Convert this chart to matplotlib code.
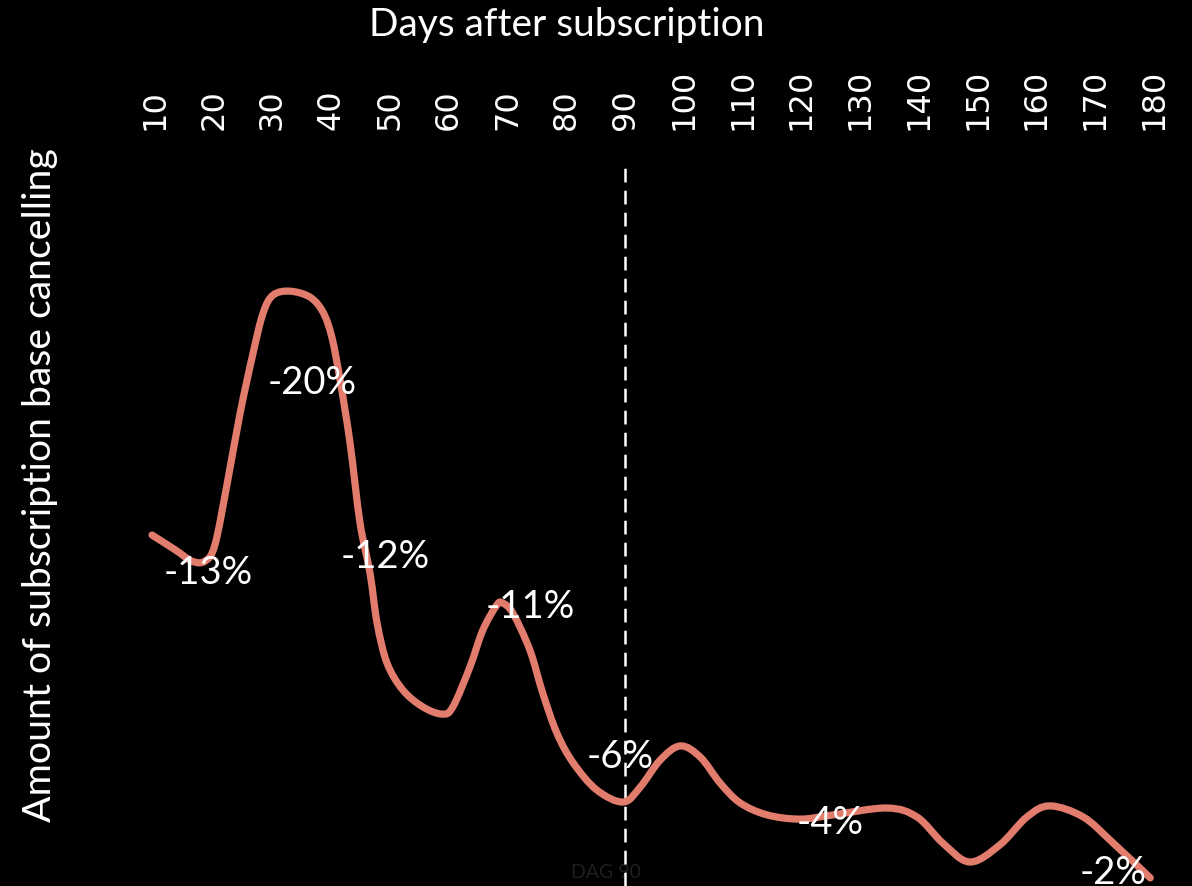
import numpy as np
import matplotlib
matplotlib.use("Agg")
import matplotlib.pyplot as plt
from matplotlib.path import Path
from matplotlib.patches import PathPatch

# Share of the subscription base cancelling, by days after subscription
days = [9.5, 13.5, 16.3, 18.5, 20.2, 22.3, 24.5, 26.7, 28.4, 30.1, 33.0, 36.4,
        38.6, 40.1, 41.5, 43.2, 44.9, 46.6, 47.8, 49.5, 52.2, 55.6, 58.9, 60.7,
        63.6, 65.8, 68.2, 69.2, 70.9, 73.8, 76.0, 78.4, 81.2, 85.2, 89.7, 92.6,
        96.0, 99.4, 102.8, 106.2, 109.6, 114.2, 119.8, 125.4, 134.6, 139.7,
        144.1, 148.7, 153.8, 158.4, 162.3, 168.0, 173.1, 179.4]
share = [11.70, 11.20, 10.83, 10.83, 11.37, 13.43, 15.77, 17.77, 19.10, 19.70,
         19.83, 19.63, 19.13, 18.30, 16.87, 14.77, 12.10, 10.43, 8.77, 7.43,
         6.53, 5.97, 5.73, 5.97, 7.30, 8.53, 9.37, 9.43, 9.10, 7.87, 6.43, 5.10,
         4.10, 3.20, 2.80, 3.30, 4.20, 4.67, 4.30, 3.43, 2.77, 2.37, 2.23, 2.37,
         2.60, 2.30, 1.43, 0.80, 1.37, 2.30, 2.67, 2.30, 1.43, 0.27]

# Annotated changes and where they sit on the chart
label_values = [-13, -20, -12, -11, -6, -4, -2]
label_days = [19.0, 36.7, 49.1, 73.8, 89.1, 124.9, 173.1]
label_heights = [10.43, 16.77, 10.97, 9.30, 4.30, 2.10, 0.43]

tick_days = list(range(10, 181, 10))
marker_day = 90
marker_text = "DAG 90"

W, H = 1192, 886
fig = plt.figure(figsize=(W / 100, H / 100), dpi=100, facecolor="black")
ax = fig.add_axes([140 / W, 0.0, (1165 - 140) / W, (H - 140) / H])
ax.set_facecolor("black")
ax.set_xlim(7.45, 181.91)
ax.set_ylim(0, 24.87)


def smooth_path(xs, ys):
    """Catmull-Rom curve through the points, as cubic Bezier segments."""
    pts = np.column_stack([xs, ys])
    n = len(pts)
    verts = [pts[0]]
    codes = [Path.MOVETO]
    for i in range(n - 1):
        p0 = pts[max(i - 1, 0)]
        p1 = pts[i]
        p2 = pts[i + 1]
        p3 = pts[min(i + 2, n - 1)]
        c1 = p1 + (p2 - p0) / 6.0
        c2 = p2 - (p3 - p1) / 6.0
        verts += [c1, c2, p2]
        codes += [Path.CURVE4] * 3
    return Path(np.array(verts), codes)


curve = PathPatch(smooth_path(days, share), facecolor="none",
                  edgecolor="#E27C6C", lw=5.2, capstyle="round",
                  joinstyle="round", zorder=3)
ax.add_patch(curve)

# Vertical marker at day 90
ax.plot([marker_day, marker_day], [0, 24.03], color="white", lw=1.8,
        dashes=(5.5, 3.3), zorder=2)
ax.text(86.8, 0.45, marker_text, color="#1f1f1f", fontsize=14,
        family="Lato", ha="center", va="center", zorder=1)

label_font = dict(family="Lato", fontsize=27.5, color="white",
                  ha="center", va="center", zorder=4)
for v, d, h in zip(label_values, label_days, label_heights):
    ax.text(d, h, f"{v}%", **label_font)

# Axis styling: ticks on top, no frame
for s in ax.spines.values():
    s.set_visible(False)
ax.xaxis.set_ticks_position("top")
ax.xaxis.set_label_position("top")
ax.set_xticks(tick_days)
ax.set_xticklabels([str(t) for t in tick_days], rotation=90,
                   fontsize=23, color="white", family="DejaVu Sans")
ax.tick_params(axis="x", length=0, pad=7)
ax.set_yticks([])

fig.text(567 / W, 1 - 25 / H, "Days after subscription", color="white",
         fontsize=28, family="Lato", ha="center", va="center")
fig.text(40 / W, 1 - 485 / H, "Amount of subscription base cancelling",
         color="white", fontsize=28.3, family="Lato", ha="center",
         va="center", rotation=90)

fig.savefig("out.png", dpi=100, facecolor="black")
